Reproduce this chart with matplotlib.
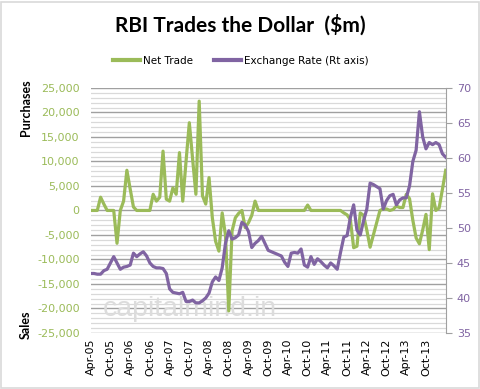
import numpy as np
import matplotlib
matplotlib.use("Agg")
import matplotlib.pyplot as plt
from matplotlib.ticker import FuncFormatter, MultipleLocator
from matplotlib.patches import Rectangle

# monthly data, Apr-05 .. Apr-14
net_trade = [0, 0, 0, 2700, 1300, 0, 0, 0, -6700, 0, 1900, 8200,
             4400, 700, 0, 0, 0, 0, 0, 3300, 1900, 2700, 12100, 2300,
             1900, 4600, 3300, 11800, 1900, 10000, 17900, 10500, 3300, 22300, 3000, 1300,
             6700, -1500, -6300, -8300, -500, -5000, -20500, -4200, -1500, -600, 0, -3500,
             -2500, -1000, 1900, 0, 0, 0, 0, 0, 0, 0, 0, 0,
             0, 0, 0, 0, 0, 0, 1100, 0, 0, 0, 0, 0,
             0, 0, 0, 0, 0, -500, -900, -1900, -7600, -7300, -500, -1000,
             -4000, -7500, -5000, -2500, 0, 300, 300, 0, 200, 900, 600, 600,
             3300, 2400, -2000, -5600, -6800, -4000, -800, -8000, 3400, 0, 500, 4300,
             8200]
fx_rate = [43.5, 43.5, 43.4, 43.4, 43.9, 44.1, 45.0, 45.9, 45.0, 44.1, 44.4, 44.5,
           44.7, 46.4, 45.9, 46.3, 46.6, 46.0, 45.0, 44.5, 44.3, 44.3, 44.2, 43.5,
           41.3, 40.8, 40.7, 40.6, 40.8, 39.5, 39.5, 39.7, 39.3, 39.3, 39.6, 40.0,
           40.7, 42.3, 43.0, 42.5, 44.3, 47.8, 49.6, 48.4, 48.6, 49.0, 50.8, 50.4,
           49.5, 47.2, 47.8, 48.2, 48.8, 47.8, 46.8, 46.6, 46.4, 46.2, 46.0, 45.1,
           44.5, 46.4, 46.5, 46.4, 47.0, 44.7, 44.4, 45.9, 44.8, 45.6, 45.2, 44.7,
           44.3, 45.0, 44.6, 44.1, 46.5, 48.7, 48.9, 51.5, 53.3, 49.7, 49.0, 51.0,
           52.7, 56.4, 56.2, 55.9, 55.6, 52.7, 53.9, 54.6, 54.8, 53.3, 54.0, 54.3,
           54.3, 56.0, 59.5, 61.1, 66.6, 63.0, 61.3, 62.2, 61.9, 62.2, 61.9, 60.6,
           60.1]
tick_labels = ['Apr-05', 'Oct-05', 'Apr-06', 'Oct-06', 'Apr-07', 'Oct-07',
               'Apr-08', 'Oct-08', 'Apr-09', 'Oct-09', 'Apr-10', 'Oct-10',
               'Apr-11', 'Oct-11', 'Apr-12', 'Oct-12', 'Apr-13', 'Oct-13']

green = '#9BBB59'
purple = '#8064A2'

fig = plt.figure(figsize=(4.81, 3.89), dpi=100)
fig.patches.append(Rectangle((0.002, 0.002), 0.994, 0.994, transform=fig.transFigure,
                             fill=False, edgecolor='#D9D9D9', lw=1.2))

ax = fig.add_axes([0.1886, 0.144, 0.738, 0.63])
ax2 = ax.twinx()

x = np.arange(len(net_trade))
ax.plot(x, net_trade, color=green, lw=2.3, solid_joinstyle='round', zorder=3)
ax2.plot(x, fx_rate, color=purple, lw=2.3, solid_joinstyle='round', zorder=3)

ax.set_xlim(0, len(net_trade) - 1)
ax.set_ylim(-25000, 25000)
ax2.set_ylim(35, 70)

ax.yaxis.set_major_locator(MultipleLocator(5000))
ax.yaxis.set_minor_locator(MultipleLocator(1000))
ax.yaxis.set_major_formatter(FuncFormatter(lambda v, p: f'{int(v):,}'))
ax.grid(which='minor', axis='y', color='#D9D9D9', lw=0.9)
ax.grid(which='major', axis='y', color='#A0A0A0', lw=1.0)
ax.set_axisbelow(True)

ax.set_xticks(np.arange(0, 6 * len(tick_labels), 6))
ax.set_xticklabels(tick_labels, rotation=90, fontsize=8)
ax.tick_params(axis='x', length=0, pad=4)
ax.tick_params(axis='y', which='both', length=0, labelcolor=green, labelsize=8, pad=8)

ax2.yaxis.set_major_locator(MultipleLocator(5))
ax2.tick_params(axis='y', length=4, direction='out', color='#A0A0A0',
                labelcolor=purple, labelsize=8, pad=4)

for s in ['top', 'left', 'bottom', 'right']:
    ax.spines[s].set_visible(False)
for s in ['top', 'left', 'bottom']:
    ax2.spines[s].set_visible(False)
ax2.spines['right'].set_color('#A0A0A0')

ax.text(0.394, 0.205, 'capitalmind.in', transform=fig.transFigure, fontsize=20.5,
        color='#DCDCDC', ha='center', va='center', family='Liberation Sans', zorder=1)

fig.text(0.5, 0.935, 'RBI Trades the Dollar  ($m)', ha='center', va='center',
         fontsize=15, fontweight='bold', family='Lato')
fig.text(0.054, 0.722, 'Purchases', rotation=90, ha='center', va='center',
         fontsize=9, fontweight='bold', family='Lato')
fig.text(0.054, 0.165, 'Sales', rotation=90, ha='center', va='center',
         fontsize=9, fontweight='bold', family='Lato')

h1, = ax.plot([], [], color=green, lw=3)
h2, = ax.plot([], [], color=purple, lw=3)
fig.legend([h1, h2], ['Net Trade', 'Exchange Rate (Rt axis)'], loc='center',
           bbox_to_anchor=(0.5, 0.843), ncol=2, frameon=False, fontsize=7.5,
           handlelength=2.6, handletextpad=0.3, columnspacing=2.0)

fig.savefig('out.png', dpi=100)
